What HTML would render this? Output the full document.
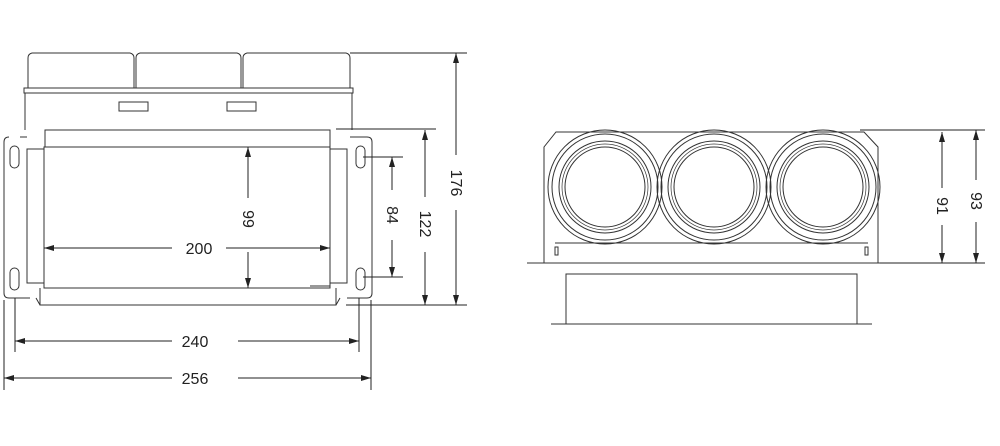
<!DOCTYPE html>
<html><head><meta charset="utf-8"><style>
html,body{margin:0;padding:0;background:#fff;width:1000px;height:446px;overflow:hidden}
svg{display:block}
text{font-family:"Liberation Sans",sans-serif;font-size:16px;fill:#222}
</style></head><body>
<svg width="1000" height="446" viewBox="0 0 1000 446" xmlns="http://www.w3.org/2000/svg">
<defs>
<marker id="a" viewBox="0 0 10 6" refX="10" refY="3" markerWidth="10" markerHeight="6" orient="auto-start-reverse" markerUnits="userSpaceOnUse"><path d="M0,0L10,3L0,6z" fill="#222"/></marker>
</defs>
<g fill="none" stroke="#333" stroke-width="1">
<path d="M28,88V58q0-4,4-5H130q4,1,4,5V88"/>
<path d="M136,88V58q0-4,4-5H237q4,1,4,5V88"/>
<path d="M243,88V58q0-4,4-5H346q4,1,4,5V88"/>
<rect x="24" y="88" width="329" height="5"/>
<path d="M25,93V130M352,93V130"/>
<rect x="119" y="102" width="29" height="9"/><rect x="227" y="102" width="29" height="9"/>
<path d="M20,137H27M350,137H367q5,0,5,5V293q0,5-5,5H347M30,298H9q-5,0-5-5V142q0-5,5-5"/>
<rect x="45" y="130" width="285" height="17"/>
<rect x="44" y="147" width="286" height="141"/>
<path d="M40,288V305H336V288M40,305L36,298M336,305L340,298"/>
<rect x="27" y="149" width="17" height="134"/>
<rect x="330" y="149" width="17" height="134"/>
<rect x="10" y="146" width="9" height="22" rx="4.5"/><rect x="10" y="268" width="9" height="22" rx="4.5"/>
<rect x="356" y="146" width="9" height="22" rx="4.5"/><rect x="356" y="268" width="9" height="22" rx="4.5"/>
<path d="M44,200V225M330,200V225"/>
<path d="M310,286H330"/>
<g stroke="#222">
<path d="M248,147V198" marker-start="url(#a)"/><path d="M248,252V288" marker-end="url(#a)"/>
<path d="M44,248H172" marker-start="url(#a)"/><path d="M226,248H330" marker-end="url(#a)"/>
<path d="M363,157H403M363,277H403"/>
<path d="M392,157V190" marker-start="url(#a)"/><path d="M392,240V277" marker-end="url(#a)"/>
<path d="M336,129H436M346,305H467M350,53H467"/>
<path d="M425,130V197" marker-start="url(#a)"/><path d="M425,252V305" marker-end="url(#a)"/>
<path d="M456,53V155" marker-start="url(#a)"/><path d="M456,210V305" marker-end="url(#a)"/>
<path d="M15,298V352M359,298V352M4,300V390M371,300V390"/>
<path d="M15,341H172" marker-start="url(#a)"/><path d="M238,341H359" marker-end="url(#a)"/>
<path d="M4,378H172" marker-start="url(#a)"/><path d="M238,378H371" marker-end="url(#a)"/>
</g>
<path d="M544,263V147L556,132H864L878,147V263"/>
<path d="M527,263H896"/>
<path d="M555,243H868"/>
<g>
<circle cx="605" cy="187" r="57"/><circle cx="605" cy="187" r="53"/><circle cx="605" cy="187" r="46"/><circle cx="605" cy="187" r="43" stroke-width="0.7"/><circle cx="605" cy="187" r="40"/>
<circle cx="714" cy="187" r="57"/><circle cx="714" cy="187" r="53"/><circle cx="714" cy="187" r="46"/><circle cx="714" cy="187" r="43" stroke-width="0.7"/><circle cx="714" cy="187" r="40"/>
<circle cx="823" cy="187" r="57"/><circle cx="823" cy="187" r="53"/><circle cx="823" cy="187" r="46"/><circle cx="823" cy="187" r="43" stroke-width="0.7"/><circle cx="823" cy="187" r="40"/>
</g>
<rect x="555" y="247" width="3" height="8"/><rect x="865" y="247" width="3" height="8"/>
<rect x="566" y="274" width="291" height="50"/>
<path d="M551,324H872"/>
<g stroke="#222">
<path d="M860,130H985M880,263H985"/>
<path d="M942,132V188" marker-start="url(#a)"/><path d="M942,225V263" marker-end="url(#a)"/>
<path d="M976,130V180" marker-start="url(#a)"/><path d="M976,222V263" marker-end="url(#a)"/>
</g>
</g>
<text x="199" y="254" text-anchor="middle">200</text>
<text x="195" y="347" text-anchor="middle">240</text>
<text x="195" y="384" text-anchor="middle">256</text>
<text transform="translate(243,219) rotate(90)" text-anchor="middle">99</text>
<text transform="translate(387,215) rotate(90)" text-anchor="middle">84</text>
<text transform="translate(420,224) rotate(90)" text-anchor="middle">122</text>
<text transform="translate(451,183) rotate(90)" text-anchor="middle">176</text>
<text transform="translate(937,206) rotate(90)" text-anchor="middle">91</text>
<text transform="translate(971,201) rotate(90)" text-anchor="middle">93</text>
</svg>
</body></html>
